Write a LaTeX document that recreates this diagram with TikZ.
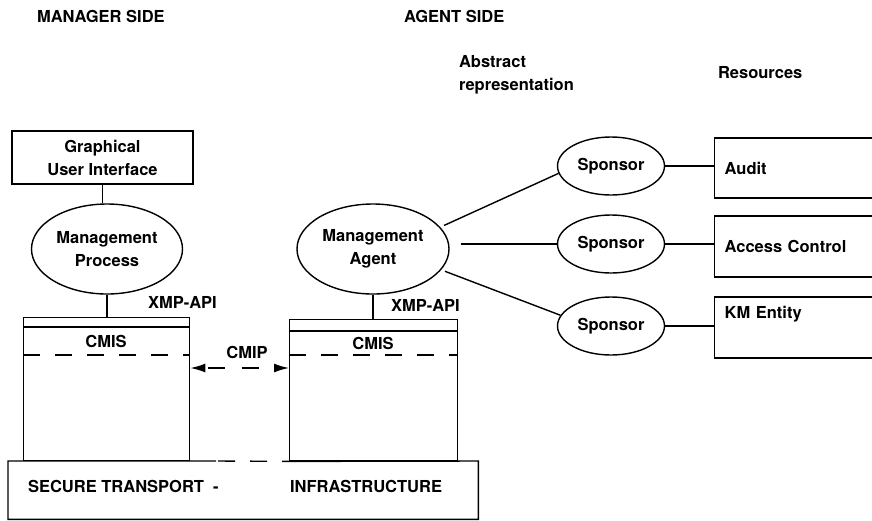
\documentclass[tikz,border=0pt]{standalone}
\usepackage{fontspec}
\setmainfont{TeX Gyre Heros}
\usetikzlibrary{shapes.geometric,positioning,arrows.meta}
\newcommand{\connectres}[2]{%
  \draw (#1.east) -- (#1.east -| #2.west)}
\newcommand{\stacklines}[3]{%
  \draw ([yshift=-#2pt]#1.north west) -- ([yshift=-#2pt]#1.north east);
  \draw[dashed, dash pattern=on 17pt off 15pt]
    ([yshift=-#3pt]#1.north west) -- ([yshift=-#3pt]#1.north east)}

\begin{document}
\begin{tikzpicture}[x=1pt, y=-1pt, line width=1.4pt,
    font=\fontsize{16.5}{23}\selectfont\bfseries,
    box/.style={draw, rectangle, inner sep=0pt},
    proc/.style={draw, ellipse, align=center, inner sep=0pt},
    sponsor/.style={draw, ellipse, minimum width=107pt, minimum height=58pt, inner sep=0pt},
    resbox/.style={draw, rectangle, anchor=west, minimum width=180pt,
      minimum height=60pt, text width=160pt, align=left, inner xsep=10pt},
    stack/.style={draw, rectangle, anchor=north west, inner sep=0pt},
    >={Latex[length=15pt,width=9pt]}]
  \useasboundingbox (0,0) rectangle (872,520);

  % headers
  \node[anchor=west] (mgrside) at (33,16) {MANAGER SIDE};
  \node[anchor=west] (agtside) at (400,16) {AGENT SIDE};
  \node[anchor=west, align=left] (abstract) at (455,75) {Abstract\\representation};
  \node[anchor=west] (resources) at (714,73) {Resources};

  % manager side
  \node[box, minimum width=181pt, minimum height=53pt, align=center] (gui) at (102.5,157.5)
    {Graphical\\User Interface};
  \node[proc, minimum width=151pt, minimum height=90pt] (mproc) at (107,249)
    {Management\\Process};
  \node[stack, minimum width=166pt, minimum height=143pt] (lstack) at (23,317) {};
  \stacklines{lstack}{10}{38};
  \node (lcmis) at (106,341) {CMIS};
  \node[anchor=west] (lapi) at (144,302) {XMP-API};

  \draw (gui) -- (gui.south |- mproc.north);
  \draw (mproc.south) -- (mproc.south |- lstack.north);

  % agent side
  \node[proc, minimum width=152pt, minimum height=90pt] (magent) at (373,249)
    {Management\\Agent};
  \node[stack, minimum width=168pt, minimum height=141pt] (rstack) at (289,319) {};
  \stacklines{rstack}{12}{36};
  \node (rcmis) at (373,343) {CMIS};
  \node[anchor=west] (rapi) at (387,305) {XMP-API};

  \draw (magent.south) -- (magent.south |- rstack.north);

  % cmip
  \node (cmip) at (247,352) {CMIP};
  \draw[<->, dash pattern=on 17pt off 17pt, dash phase=-3pt]
    ([yshift=-51pt]lstack.north east) -- ([yshift=-49pt]rstack.north west);

  % transport
  \node[anchor=north west, minimum width=469pt, minimum height=57pt, inner sep=0pt]
    (transport) at (8,461) {};
  \draw (216,461) -- (transport.north west) -- (transport.south west)
    -- (transport.south east) -- (transport.north east) -- (rstack.south west);
  \draw[dash pattern=on 17pt off 15pt] (218,461) -- (rstack.south west);
  \node[anchor=west] (secure) at (24,486) {SECURE TRANSPORT~~-};
  \node[anchor=west] (infra) at (286,486) {INFRASTRUCTURE};

  % sponsors and resources
  \node[sponsor] (sp1) at (611,166) {Sponsor};
  \node[sponsor] (sp2) at (611,244) {Sponsor};
  \node[sponsor] (sp3) at (611,326) {Sponsor};

  \node[resbox] (audit) at (714,168) {Audit};
  \node[resbox, minimum height=61pt] (access) at (714,246.5) {Access Control};
  \node[resbox, minimum height=61pt] (kment) at (714,327.5) {KM Entity\\ \strut};

  \draw[shorten <=4pt] (magent.18) -- (sp1.188);
  \draw ([xshift=11pt]magent.east |- sp2.west) -- (sp2.west);
  \draw[shorten <=4pt] (magent.-17) -- (sp3.168);

  \connectres{sp1}{audit};
  \connectres{sp2}{access};
  \connectres{sp3}{kment};
\end{tikzpicture}
\end{document}
